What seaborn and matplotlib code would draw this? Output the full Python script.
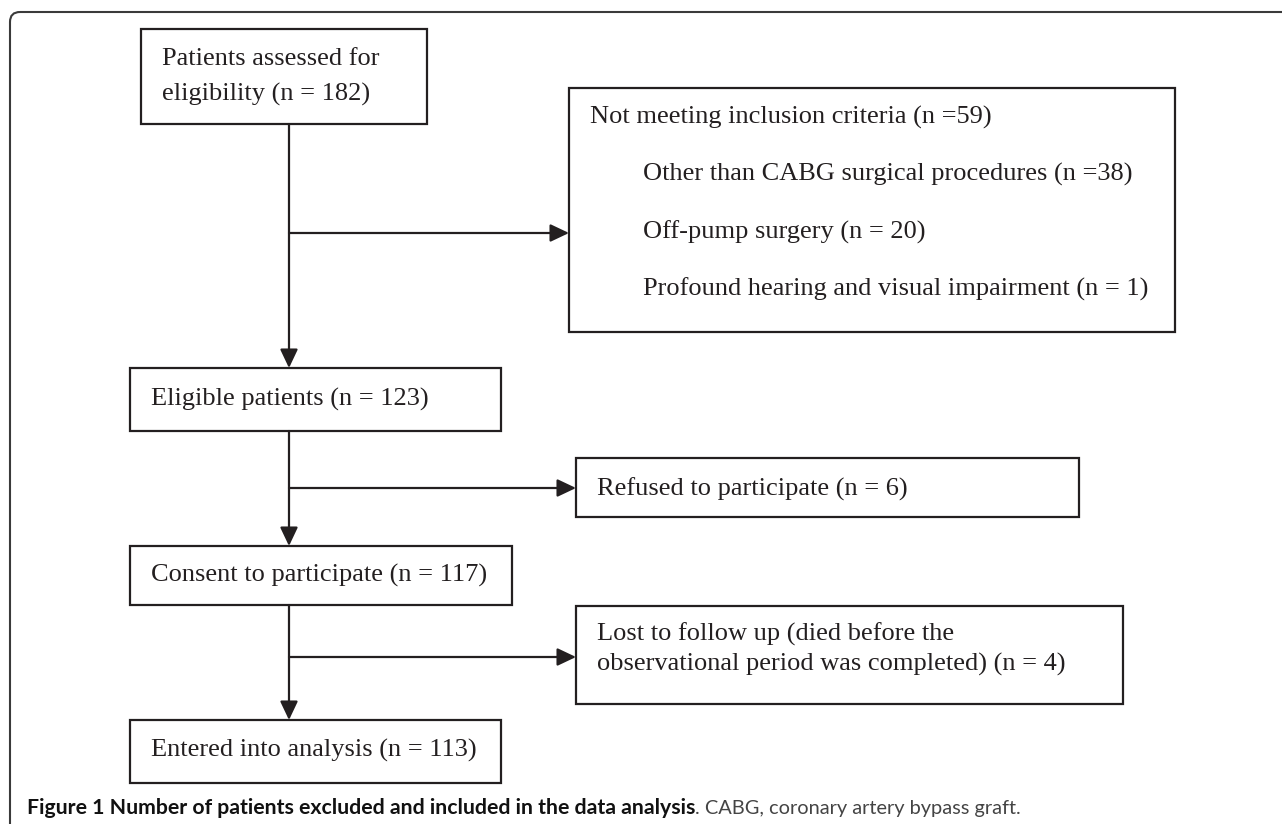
import matplotlib
matplotlib.use("Agg")
import matplotlib.pyplot as plt
from matplotlib.patches import Rectangle, FancyBboxPatch
import seaborn as sns

# Flow of patients through the study
stage_labels = [
    "Patients assessed for\neligibility (n = 182)",
    "Eligible patients (n = 123)",
    "Consent to participate (n = 117)",
    "Entered into analysis (n = 113)",
]
excluded_header = "Not meeting inclusion criteria (n =59)"
excluded_reasons = [
    "Other than CABG surgical procedures (n =38)",
    "Off-pump surgery (n = 20)",
    "Profound hearing and visual impairment (n = 1)",
]
dropout_labels = [
    "Refused to participate (n = 6)",
    "Lost to follow up (died before the\nobservational period was completed) (n = 4)",
]
caption_bold = "Figure 1 Number of patients excluded and included in the data analysis"
caption_rest = ". CABG, coronary artery bypass graft."

sns.set_theme(style="white")
plt.rcParams['font.family'] = ['Liberation Serif', 'DejaVu Serif']

ink = '#231f20'
fs = 19

fig = plt.figure(figsize=(12.82, 8.24), dpi=100)
ax = fig.add_axes([0, 0, 1, 1])
ax.set_xlim(0, 1282)
ax.set_ylim(824, 0)
ax.axis('off')

# outer rounded frame (runs off the right and bottom edges)
ax.add_patch(FancyBboxPatch((10, 12), 1400, 900, boxstyle="round,pad=0,rounding_size=10",
                            lw=1.5, ec='#3a3a3a', fc='none'))

# main column boxes: x0, y0, x1, y1
main_boxes = [(141, 29, 427, 124), (130, 368, 501, 431), (130, 546, 512, 605), (130, 720, 501, 783)]
side_boxes = [(569, 88, 1175, 332), (576, 458, 1079, 517), (576, 606, 1123, 704)]
branch_y = [233, 488, 657]
trunk_x = 289


def box(b):
    x0, y0, x1, y1 = b
    ax.add_patch(Rectangle((x0, y0), x1 - x0, y1 - y0, fill=False, ec=ink, lw=1.6))


def arrow(x0, y0, x1, y1):
    ax.annotate("", xy=(x1, y1), xytext=(x0, y0),
                arrowprops=dict(arrowstyle="-|>,head_length=0.95,head_width=0.45",
                                mutation_scale=12, color=ink, lw=1.6,
                                shrinkA=0, shrinkB=0))


def lines(x, ys, label):
    for yy, part in zip(ys, label.split("\n")):
        ax.text(x, yy + 3, part, fontsize=fs, color=ink, va='center', ha='left')


for b in main_boxes + side_boxes:
    box(b)

for i in range(3):
    arrow(trunk_x, main_boxes[i][3], trunk_x, main_boxes[i + 1][1])
    arrow(trunk_x, branch_y[i], side_boxes[i][0], branch_y[i])

# text in the main column
lines(162, [56, 91], stage_labels[0])
lines(151, [396], stage_labels[1])
lines(151, [572], stage_labels[2])
lines(151, [747], stage_labels[3])

# exclusion box
lines(590, [114], excluded_header)
for yy, lab in zip([171, 229, 286], excluded_reasons):
    lines(643, [yy], lab)

lines(597, [486], dropout_labels[0])
lines(597, [631, 661], dropout_labels[1])

# caption
cap = ax.text(27, 808, caption_bold, fontsize=15.3, fontweight='bold', family=['Lato', 'DejaVu Sans'],
              color='#111111', va='center', ha='left')
ax.annotate(caption_rest, xy=(1, 0), xycoords=cap, xytext=(0, 0.9), textcoords='offset points',
            fontsize=14.4, family=['Lato', 'DejaVu Sans'],
            color='#444444', va='bottom', ha='left')

fig.savefig('out.png', dpi=100)
